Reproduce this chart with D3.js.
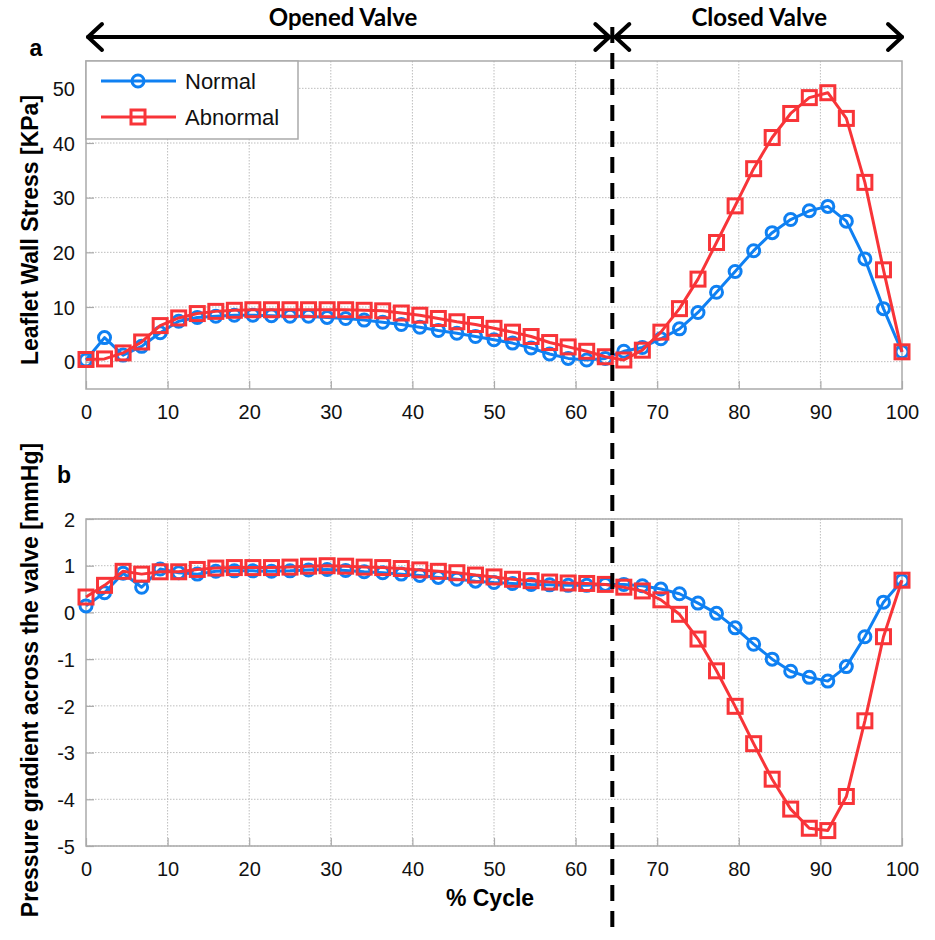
<!DOCTYPE html>
<html>
<head>
<meta charset="utf-8">
<script src="https://cdn.jsdelivr.net/npm/d3@7"></script>
<style>
  html, body { margin: 0; padding: 0; background: #fff; }
  svg { display: block; }
</style>
</head>
<body>
<svg id="chart" width="935" height="940"></svg>
<script>
// Percent of the cardiac cycle: 45 samples from 0 to 100 %
const cycle = [
  0, 2.27, 4.55, 6.82, 9.09, 11.36, 13.64, 15.91, 18.18, 20.45,
  22.73, 25, 27.27, 29.55, 31.82, 34.09, 36.36, 38.64, 40.91, 43.18,
  45.45, 47.73, 50, 52.27, 54.55, 56.82, 59.09, 61.36, 63.64, 65.91,
  68.18, 70.45, 72.73, 75, 77.27, 79.55, 81.82, 84.09, 86.36, 88.64,
  90.91, 93.18, 95.45, 97.73, 100
];

// Leaflet wall stress [KPa]
const stressNormal = [
  0.3, 4.4, 1.2, 2.8, 5.3, 7.4, 8.1, 8.3, 8.5, 8.5,
  8.4, 8.3, 8.3, 8.1, 7.9, 7.6, 7.2, 6.8, 6.3, 5.7,
  5.2, 4.6, 4.0, 3.4, 2.5, 1.4, 0.6, 0.3, 0.6, 1.9,
  2.6, 4.2, 6.0, 9.0, 12.7, 16.5, 20.3, 23.6, 26.0, 27.6,
  28.4, 25.7, 18.8, 9.7, 1.8
];
const stressAbnormal = [
  0.4, 0.5, 1.6, 3.6, 6.6, 8.0, 8.8, 9.2, 9.4, 9.5,
  9.5, 9.5, 9.5, 9.5, 9.5, 9.4, 9.3, 8.9, 8.5, 7.9,
  7.3, 6.8, 6.1, 5.4, 4.6, 3.5, 2.7, 1.9, 0.9, 0.3,
  2.1, 5.4, 9.7, 15.1, 21.8, 28.5, 35.3, 41.0, 45.4, 48.3,
  49.2, 44.5, 32.8, 16.8, 1.8
];

// Pressure gradient across the valve [mmHg]
const gradNormal = [
  0.14, 0.42, 0.84, 0.54, 0.93, 0.85, 0.82, 0.88, 0.89, 0.89,
  0.88, 0.89, 0.91, 0.92, 0.90, 0.87, 0.85, 0.82, 0.79, 0.75,
  0.71, 0.67, 0.64, 0.62, 0.60, 0.59, 0.58, 0.58, 0.60, 0.60,
  0.57, 0.50, 0.40, 0.20, -0.02, -0.33, -0.68, -1.00, -1.26, -1.39,
  -1.47, -1.16, -0.52, 0.22, 0.68
];
const gradAbnormal = [
  0.33, 0.58, 0.88, 0.82, 0.87, 0.87, 0.92, 0.95, 0.96, 0.96,
  0.96, 0.97, 0.99, 1.00, 0.99, 0.97, 0.96, 0.94, 0.91, 0.88,
  0.85, 0.80, 0.76, 0.71, 0.68, 0.65, 0.63, 0.62, 0.60, 0.54,
  0.46, 0.27, -0.04, -0.57, -1.25, -2.01, -2.81, -3.57, -4.21, -4.62,
  -4.67, -3.94, -2.32, -0.52, 0.69
];

const xTicks = [0, 10, 20, 30, 40, 50, 60, 70, 80, 90, 100];
const stressTicks = [0, 10, 20, 30, 40, 50];
const gradTicks = [-5, -4, -3, -2, -1, 0, 1, 2];
const seriesNames = ["Normal", "Abnormal"];
const valveClosure = 64.5;   // % cycle where the valve closes
const phaseLabels = ["Opened Valve", "Closed Valve"];

const BLUE = "#0f80f2";
const RED = "#f83438";
const AXIS = "#aaaaaa";
const GRID = "#bdbdbd";
const SANS = "'Liberation Sans', Arial, sans-serif";

const svg = d3.select("#chart");

const x = d3.scaleLinear().domain([0, 100]).range([86, 902]);
const yTop = d3.scaleLinear().domain([-5, 55]).range([389, 61]);
const yBot = d3.scaleLinear().domain([-5, 2]).range([846, 519]);

// plain hyphen-minus tick text
const fmt = d => String(d);

function drawPanel(y, yTicks, normal, abnormal, label, labelY, letter, letterPos) {
  const [y0, y1] = y.range();
  const g = svg.append("g");

  // grid
  g.append("g").selectAll("line").data(xTicks.slice(1, -1)).join("line")
    .attr("x1", d => x(d)).attr("x2", d => x(d))
    .attr("y1", y1).attr("y2", y0)
    .attr("stroke", GRID).attr("stroke-width", 1).attr("stroke-dasharray", "1.5,1.5");
  g.append("g").selectAll("line").data(yTicks).join("line")
    .attr("x1", x.range()[0]).attr("x2", x.range()[1])
    .attr("y1", d => y(d)).attr("y2", d => y(d))
    .attr("stroke", GRID).attr("stroke-width", 1).attr("stroke-dasharray", "1.5,1.5");

  // axes with inward ticks
  const ax = d3.axisBottom(x).tickValues(xTicks).tickSize(-8).tickPadding(16).tickFormat(fmt);
  const ay = d3.axisLeft(y).tickValues(yTicks).tickSize(-8).tickPadding(11).tickFormat(fmt);
  const gx = g.append("g").attr("transform", `translate(0,${y0})`).call(ax);
  const gy = g.append("g").attr("transform", `translate(${x.range()[0]},0)`).call(ay);
  [gx, gy].forEach(a => {
    a.select(".domain").remove();
    a.selectAll("line").attr("stroke", AXIS).attr("stroke-width", 1.2);
    a.selectAll("text").attr("fill", "#111").style("font-family", SANS).style("font-size", "20px");
  });
  gy.selectAll("text").attr("dy", "0.36em");

  // box
  g.append("rect")
    .attr("x", x.range()[0]).attr("y", y1)
    .attr("width", x.range()[1] - x.range()[0]).attr("height", y0 - y1)
    .attr("fill", "none").attr("stroke", AXIS).attr("stroke-width", 1.5);

  // series
  const line = d3.line().x((d, i) => x(cycle[i])).y(d => y(d));
  const sN = g.append("g");
  sN.append("path").datum(normal).attr("d", line)
    .attr("fill", "none").attr("stroke", BLUE).attr("stroke-width", 3).attr("stroke-linejoin", "round");
  sN.selectAll("circle").data(normal).join("circle")
    .attr("cx", (d, i) => x(cycle[i])).attr("cy", d => y(d)).attr("r", 6)
    .attr("fill", "none").attr("stroke", BLUE).attr("stroke-width", 3);

  const sA = g.append("g");
  sA.append("path").datum(abnormal).attr("d", line)
    .attr("fill", "none").attr("stroke", RED).attr("stroke-width", 3).attr("stroke-linejoin", "round");
  sA.selectAll("rect").data(abnormal).join("rect")
    .attr("x", (d, i) => x(cycle[i]) - 7).attr("y", d => y(d) - 7)
    .attr("width", 14).attr("height", 14)
    .attr("fill", "none").attr("stroke", RED).attr("stroke-width", 3);

  // y label
  svg.append("text")
    .attr("transform", `translate(30,${labelY}) rotate(-90)`)
    .attr("text-anchor", "middle").attr("dy", "0.35em")
    .style("font-family", SANS).style("font-weight", "bold").style("font-size", "23px")
    .text(label);

  // panel letter
  svg.append("text")
    .attr("x", letterPos[0]).attr("y", letterPos[1]).attr("text-anchor", "middle").attr("dy", "0.35em")
    .style("font-family", SANS).style("font-weight", "bold").style("font-size", "23px")
    .text(letter);
}

drawPanel(yTop, stressTicks, stressNormal, stressAbnormal, "Leaflet Wall Stress [KPa]", 230, "a", [36, 48]);
drawPanel(yBot, gradTicks, gradNormal, gradAbnormal, "Pressure gradient across the valve [mmHg]", 680, "b", [64, 475]);

// x label
svg.append("text")
  .attr("x", 490).attr("y", 898).attr("text-anchor", "middle").attr("dy", "0.35em")
  .style("font-family", SANS).style("font-weight", "bold").style("font-size", "23px")
  .text("% Cycle");

// legend
const leg = svg.append("g");
leg.append("rect").attr("x", 86).attr("y", 61).attr("width", 212).attr("height", 78)
  .attr("fill", "#fff").attr("stroke", AXIS).attr("stroke-width", 1.5);
seriesNames.forEach((name, i) => {
  const cy = 81 + i * 36;
  const col = i === 0 ? BLUE : RED;
  leg.append("line").attr("x1", 101).attr("x2", 176).attr("y1", cy).attr("y2", cy)
    .attr("stroke", col).attr("stroke-width", 3);
  if (i === 0) {
    leg.append("circle").attr("cx", 138).attr("cy", cy).attr("r", 6)
      .attr("fill", "none").attr("stroke", col).attr("stroke-width", 3);
  } else {
    leg.append("rect").attr("x", 131).attr("y", cy - 7).attr("width", 14).attr("height", 14)
      .attr("fill", "none").attr("stroke", col).attr("stroke-width", 3);
  }
  leg.append("text").attr("x", 185).attr("y", cy).attr("dy", "0.35em")
    .style("font-family", SANS).style("font-size", "22px").attr("fill", "#111")
    .text(name);
});

// valve phase arrows
const arrowY = 37, closeX = x(valveClosure);
const arrows = svg.append("g").attr("stroke", "#000").attr("stroke-width", 4)
  .attr("fill", "none").attr("stroke-linecap", "round").attr("stroke-linejoin", "round");
[[x(0) + 2, closeX - 3], [closeX + 3, x(100)]].forEach(([a, b]) => {
  arrows.append("line").attr("x1", a).attr("x2", b).attr("y1", arrowY).attr("y2", arrowY);
  arrows.append("path").attr("d", `M${a + 14},${arrowY - 13} L${a},${arrowY} L${a + 14},${arrowY + 13}`);
  arrows.append("path").attr("d", `M${b - 14},${arrowY - 13} L${b},${arrowY} L${b - 14},${arrowY + 13}`);
});
svg.selectAll("text.phase").data(phaseLabels).join("text")
  .attr("class", "phase")
  .attr("x", (d, i) => i === 0 ? x(31.5) : x(82.5))
  .attr("y", 18).attr("text-anchor", "middle").attr("dy", "0.35em")
  .style("font-family", "Lato, 'Open Sans', sans-serif").style("font-weight", "bold").style("font-size", "24px")
  .text(d => d);

// closure marker
svg.append("line")
  .attr("x1", closeX).attr("x2", closeX).attr("y1", 27).attr("y2", 930)
  .attr("stroke", "#000").attr("stroke-width", 4).attr("stroke-dasharray", "16,10");
</script>
</body>
</html>
